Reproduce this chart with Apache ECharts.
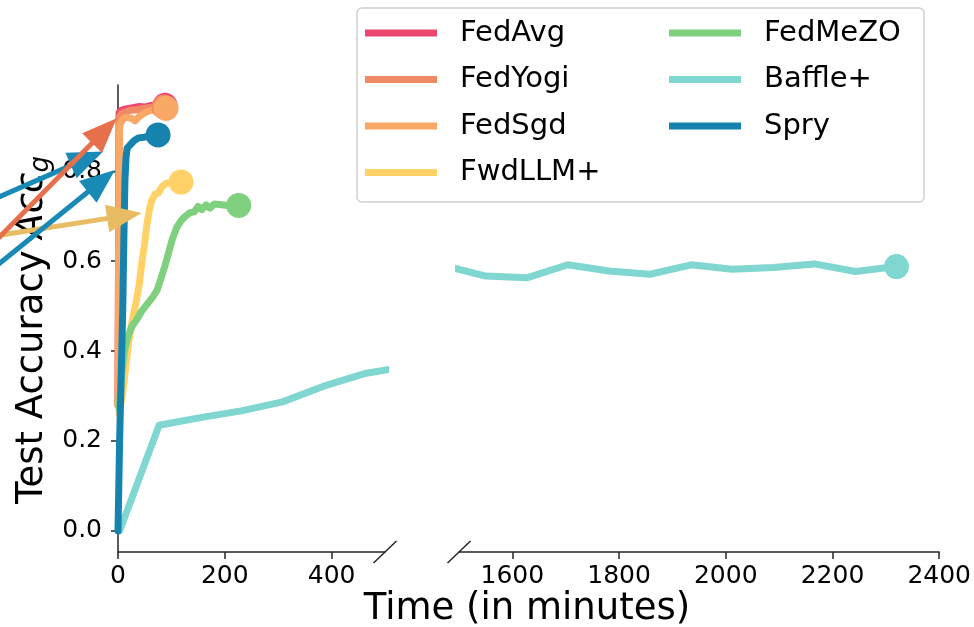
<!DOCTYPE html>
<html><head><meta charset="utf-8">
<script src="https://cdn.jsdelivr.net/npm/echarts@6/dist/echarts.min.js"></script>
<style>html,body{margin:0;padding:0;background:#fff}#c{width:974px;height:627px}</style>
</head><body><div id="c"></div><script>
// ---- data (x = time in minutes, y = test accuracy) ----
const seriesNames = ['FedAvg','FedYogi','FedSgd','FwdLLM+','FedMeZO','Baffle+','Spry'];
const seriesColors = ['#EC4770','#EF8A65','#F9A866','#FFD166','#7FD07F','#80D6D1','#1683AE'];

const fedAvg  = [[0,0.28],[2,0.93],[5,0.935],[12,0.938],[20,0.94],[30,0.942],[40,0.944],[50,0.943],[60,0.946],[70,0.948],[80,0.948],[88,0.947]];
const fedYogi = [[0,0.28],[2,0.92],[6,0.928],[14,0.932],[24,0.936],[35,0.937],[48,0.94],[60,0.942],[72,0.944],[86,0.943]];
const fedSgd  = [[0,0.28],[3,0.9],[8,0.915],[15,0.92],[25,0.918],[32,0.912],[40,0.922],[50,0.93],[60,0.935],[72,0.937],[90,0.94]];
const fwdLLM  = [[2,0.26],[8,0.3],[14,0.36],[20,0.42],[27,0.47],[34,0.51],[40,0.55],[45,0.6],[50,0.64],[54,0.68],[58,0.71],[63,0.735],[70,0.75],[76,0.752],[82,0.765],[90,0.773],[100,0.776],[118,0.776]];
const fedMeZO = [[2,0.27],[6,0.34],[12,0.4],[18,0.43],[26,0.455],[35,0.47],[45,0.49],[55,0.505],[65,0.52],[73,0.535],[80,0.56],[88,0.59],[95,0.62],[102,0.65],[110,0.675],[118,0.69],[126,0.7],[135,0.708],[143,0.71],[150,0.722],[157,0.715],[165,0.725],[172,0.718],[180,0.727],[190,0.726],[205,0.724],[226,0.724]];
const baffleEarly = [[3,0.0],[77,0.235],[154,0.252],[231,0.267],[308,0.287],[385,0.322],[462,0.35],[539,0.365]];
const baffleLate  = [[1473,0.59],[1550,0.567],[1627,0.563],[1704,0.592],[1781,0.578],[1858,0.571],[1935,0.592],[2012,0.582],[2089,0.586],[2166,0.594],[2243,0.577],[2320,0.588]];
const spry    = [[0,0.0],[3,0.2],[6,0.35],[9,0.5],[11,0.65],[13,0.78],[15,0.83],[17,0.851],[22,0.858],[30,0.868],[38,0.874],[50,0.876],[60,0.879],[75,0.881]];

const xTicksLeft  = [0,200,400];
const xTicksRight = [1600,1800,2000,2200,2400];
const yTicks      = [0,0.2,0.4,0.6,0.8];
const xRangeLeft  = [0,500];
const xRangeRight = [1500,2400];
const yRange      = [-0.047,0.992];

// annotation arrows (left-panel data coordinates: tail -> tip)
const arrowTails = [[-221,0.658],[-221,0.744],[-221,0.596],[-221,0.655]];
const arrowTips  = [[44.4,0.707],[-28,0.844],[-5.6,0.803],[-2.4,0.918]];
const arrowColors = ['#E8BC63','#198AB6','#198AB6','#E5704B'];

const FONT = 'DejaVu Sans';
const colorOf = n => seriesColors[seriesNames.indexOf(n)];

function lineSeries(name, data, panel, marker) {
  const last = data.length - 1;
  return {
    type: 'line', name, data, xAxisIndex: panel, yAxisIndex: panel,
    showSymbol: true, showAllSymbol: true, symbol: 'circle',
    symbolSize: (v, p) => (marker && p.dataIndex === last) ? 25 : 0,
    lineStyle: { width: 7, color: colorOf(name), cap: 'round', join: 'round' },
    itemStyle: { color: colorOf(name), borderWidth: 0 },
    emphasis: { disabled: true }, clip: true, animation: false
  };
}

const axisLineStyle = { color: '#262626', width: 1.5 };
function xAxisDef(grid, range, ticks) {
  return {
    type: 'value', gridIndex: grid, min: range[0], max: range[1],
    axisLine: { show: true, onZero: false, lineStyle: axisLineStyle },
    axisTick: { show: true, length: 7, lineStyle: axisLineStyle, customValues: ticks },
    axisLabel: { show: true, customValues: ticks, fontFamily: FONT, fontSize: 25, color: '#000', margin: 12,
                 formatter: v => String(v) },
    splitLine: { show: false }
  };
}

const chart = echarts.init(document.getElementById('c'), null, { renderer: 'canvas' });

const legendCommon = {
  orient: 'vertical', icon: 'rect', itemWidth: 72, itemHeight: 7, itemGap: 16.5,
  padding: 0, selectedMode: false, top: 18, z: 10,
  textStyle: { fontFamily: FONT, fontSize: 29, color: '#000', lineHeight: 30, padding: [0, 0, 0, 18] }
};

chart.setOption({
  animation: false,
  grid: [
    { left: 118, top: 85, width: 267, height: 467 },
    { left: 459, top: 85, width: 481, height: 467 }
  ],
  xAxis: [ xAxisDef(0, xRangeLeft, xTicksLeft), xAxisDef(1, xRangeRight, xTicksRight) ],
  yAxis: [
    {
      type: 'value', gridIndex: 0, min: yRange[0], max: yRange[1],
      axisLine: { show: true, onZero: false, lineStyle: axisLineStyle },
      axisTick: { show: true, length: 7, lineStyle: axisLineStyle, customValues: yTicks },
      axisLabel: { show: true, customValues: yTicks, fontFamily: FONT, fontSize: 25, color: '#000', margin: 16,
                   formatter: v => v.toFixed(1) },
      splitLine: { show: false }
    },
    { type: 'value', gridIndex: 1, min: yRange[0], max: yRange[1], show: false, splitLine: { show: false } }
  ],
  legend: [
    Object.assign({}, legendCommon, { left: 365, data: ['FedAvg','FedYogi','FedSgd','FwdLLM+'] }),
    Object.assign({}, legendCommon, { left: 669, data: ['FedMeZO','Baffle+','Spry'] })
  ],
  series: [
    lineSeries('FedAvg', fedAvg, 0, true),
    lineSeries('FedYogi', fedYogi, 0, true),
    lineSeries('FedSgd', fedSgd, 0, true),
    lineSeries('FwdLLM+', fwdLLM, 0, true),
    lineSeries('FedMeZO', fedMeZO, 0, true),
    lineSeries('Baffle+', baffleEarly, 0, false),
    lineSeries('Baffle+', baffleLate, 1, true),
    lineSeries('Spry', spry, 0, true)
  ]
});

// ---- decorations: legend frame, axis labels, break marks, arrows ----
const g = [];
g.push({ type: 'rect', z: 1, shape: { x: 357, y: 8, width: 567, height: 194, r: 5 },
         style: { fill: 'rgba(255,255,255,0.8)', stroke: '#d0d0d0', lineWidth: 1.5 } });

g.push({ type: 'text', z: 5, x: 527, y: 609,
  style: { text: 'Time (in minutes)', font: '37px "DejaVu Sans"', fill: '#000', align: 'center', verticalAlign: 'middle' } });

g.push({ type: 'text', z: 5, x: 32, y: 330, rotation: Math.PI / 2,
  style: { text: '{n|Test Accuracy }{i|Acc}{s|g}', align: 'center', verticalAlign: 'middle', fill: '#000',
    rich: {
      n: { fontFamily: FONT, fontSize: 37, lineHeight: 44, verticalAlign: 'middle', fill: '#000' },
      i: { fontFamily: FONT, fontSize: 37, fontStyle: 'italic', lineHeight: 44, verticalAlign: 'middle', fill: '#000' },
      s: { fontFamily: FONT, fontSize: 26, fontStyle: 'italic', lineHeight: 30, verticalAlign: 'bottom', fill: '#000' }
    } } });

// break marks at the end of the left axis and start of the right axis
const leftEnd = chart.convertToPixel({ gridIndex: 0 }, [xRangeLeft[1], yRange[0]]);
const rightStart = chart.convertToPixel({ gridIndex: 1 }, [xRangeRight[0], yRange[0]]);
[leftEnd, rightStart].forEach(p => {
  g.push({ type: 'line', z: 5, shape: { x1: p[0] - 11.5, y1: p[1] + 11, x2: p[0] + 11.5, y2: p[1] - 11 },
           style: { stroke: '#262626', lineWidth: 1.5 } });
});

// arrows
arrowTips.forEach((tipD, i) => {
  const tail = chart.convertToPixel({ gridIndex: 0 }, arrowTails[i]);
  const tip = chart.convertToPixel({ gridIndex: 0 }, tipD);
  const dx = tip[0] - tail[0], dy = tip[1] - tail[1];
  const L = Math.hypot(dx, dy), ux = dx / L, uy = dy / L, px = -uy, py = ux;
  const headLen = 35, halfW = 14;
  const bx = tip[0] - ux * headLen, by = tip[1] - uy * headLen;
  const ex = tail[0] - ux * 60, ey = tail[1] - uy * 60;
  g.push({ type: 'line', z: 20, shape: { x1: ex, y1: ey, x2: bx + ux * 4, y2: by + uy * 4 },
           style: { stroke: arrowColors[i], lineWidth: 5 } });
  g.push({ type: 'polygon', z: 20, shape: { points: [tip, [bx + px * halfW, by + py * halfW], [bx - px * halfW, by - py * halfW]] },
           style: { fill: arrowColors[i] } });
});

chart.setOption({ graphic: g });
</script></body></html>
